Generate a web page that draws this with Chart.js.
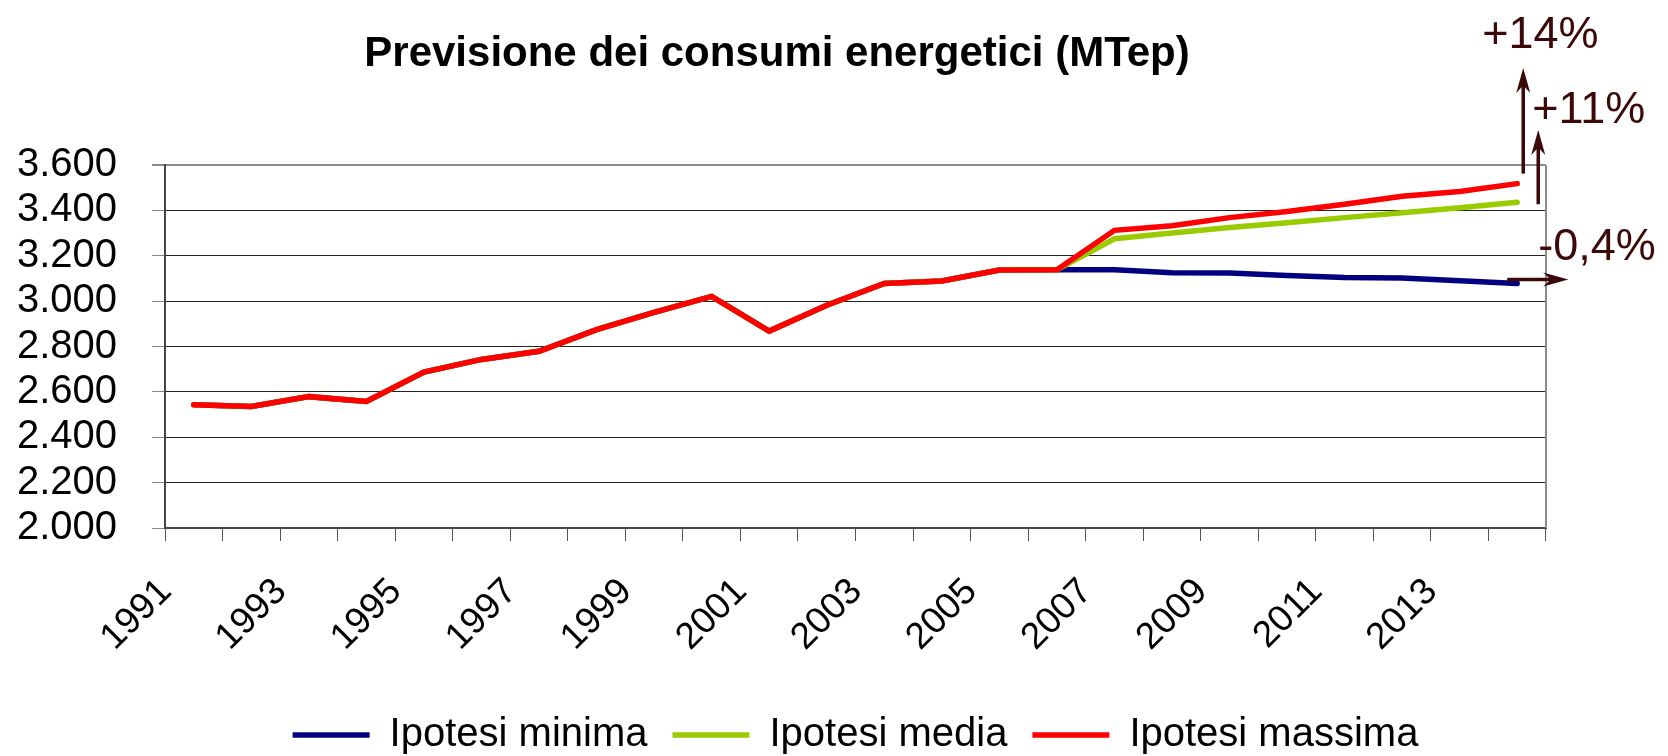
<!DOCTYPE html>
<html lang="it">
<head>
<meta charset="utf-8">
<title>Previsione dei consumi energetici</title>
<script src="https://cdn.jsdelivr.net/npm/chart.js@4/dist/chart.umd.min.js"></script>
<style>
  html, body { margin: 0; padding: 0; background: #fff; }
  #wrap { position: relative; width: 1668px; height: 756px; }
  #title {
    position: absolute; left: 0; top: 31px; width: 1554px;
    text-align: center; font: bold 42px 'Liberation Sans', Arial, sans-serif;
    line-height: 42px; color: #000;
  }
</style>
</head>
<body>
<div id="wrap">
  <canvas id="chartConsumi" width="1668" height="756"></canvas>
  <div id="title">Previsione dei consumi energetici (MTep)</div>
</div>
<script>
// Dati (MTep)
const years = ['1991', '1992', '1993', '1994', '1995', '1996', '1997', '1998', '1999', '2000',
  '2001', '2002', '2003', '2004', '2005', '2006', '2007', '2008', '2009', '2010',
  '2011', '2012', '2013', '2014'];

const ipotesiMinima = [2543, 2536, 2579, 2558, 2687, 2743, 2779, 2874, 2950, 3021,
  2868, 2982, 3078, 3089, 3137, 3138, 3138, 3125, 3124, 3113,
  3104, 3102, 3090, 3078];

const ipotesiMedia = [2543, 2536, 2579, 2558, 2687, 2743, 2779, 2874, 2950, 3021,
  2868, 2982, 3078, 3089, 3137, 3138, 3275, 3300, 3325, 3345,
  3368, 3390, 3412, 3436];

const ipotesiMassima = [2543, 2536, 2579, 2558, 2687, 2743, 2779, 2874, 2950, 3021,
  2868, 2982, 3078, 3089, 3137, 3138, 3312, 3332, 3368, 3395,
  3427, 3462, 3483, 3518];

const yTicks = [2000, 2200, 2400, 2600, 2800, 3000, 3200, 3400, 3600];
const variazioni = ['+14%', '+11%', '-0,4%'];

const FONT = "'Liberation Sans', Arial, sans-serif";
const ARROW = '#3c0808';

function formatIt(v) {
  return String(v).replace(/\B(?=(\d{3})+(?!\d))/g, '.');
}

// arrow with a filled head
function drawArrow(ctx, x1, y1, x2, y2) {
  const ang = Math.atan2(y2 - y1, x2 - x1);
  const len = 25, half = 7;
  ctx.save();
  ctx.strokeStyle = ARROW;
  ctx.fillStyle = ARROW;
  ctx.lineWidth = 3.5;
  ctx.beginPath();
  ctx.moveTo(x1, y1);
  ctx.lineTo(x2 - Math.cos(ang) * 8, y2 - Math.sin(ang) * 8);
  ctx.stroke();
  ctx.translate(x2, y2);
  ctx.rotate(ang);
  ctx.beginPath();
  ctx.moveTo(0, 0);
  ctx.lineTo(-len, -half);
  ctx.lineTo(-len * 0.7, 0);
  ctx.lineTo(-len, half);
  ctx.closePath();
  ctx.fill();
  ctx.restore();
}

// gray frame on the right of the plot
const frame = {
  id: 'frame',
  beforeDatasetsDraw(chart) {
    const { ctx, chartArea: a } = chart;
    ctx.save();
    ctx.strokeStyle = '#8c8c8c';
    ctx.lineWidth = 2;
    ctx.beginPath();
    ctx.moveTo(a.right, a.top);
    ctx.lineTo(a.right, a.bottom);
    ctx.stroke();
    ctx.restore();
  }
};

// percentage arrows next to the last year
const annotations = {
  id: 'annotations',
  afterDraw(chart) {
    const { ctx, chartArea: a, scales: { x, y } } = chart;
    const last = years.length - 1;
    const px = x.getPixelForValue(last);
    const yMax = y.getPixelForValue(ipotesiMassima[last]);
    const yMed = y.getPixelForValue(ipotesiMedia[last]);
    const yMin = y.getPixelForValue(ipotesiMinima[last]);

    drawArrow(ctx, px + 6, yMax - 10, px + 6, a.top - 97);
    drawArrow(ctx, px + 21, yMed + 2, px + 21, a.top - 35);
    drawArrow(ctx, px - 10, yMin - 4, px + 51, yMin - 4);

    ctx.save();
    ctx.fillStyle = ARROW;
    ctx.font = '45px ' + FONT;
    ctx.textBaseline = 'alphabetic';
    ctx.textAlign = 'left';
    ctx.fillText(variazioni[0], px - 35, a.top - 117);
    ctx.fillText(variazioni[1], px + 15, a.top - 42);
    ctx.fillText(variazioni[2], px + 21, yMin - 23);
    ctx.restore();
  }
};

function lineDataset(label, data, color, order) {
  return {
    label: label,
    data: data,
    borderColor: color,
    backgroundColor: color,
    borderWidth: 5.5,
    borderCapStyle: 'round',
    pointRadius: 0,
    pointHoverRadius: 0,
    tension: 0,
    fill: false,
    order: order
  };
}

new Chart(document.getElementById('chartConsumi'), {
  type: 'line',
  data: {
    labels: years,
    datasets: [
      lineDataset('Ipotesi minima', ipotesiMinima, '#000080', 2),
      lineDataset('Ipotesi media', ipotesiMedia, '#99cc00', 1),
      lineDataset('Ipotesi massima', ipotesiMassima, '#ff0000', 0)
    ]
  },
  options: {
    responsive: false,
    animation: false,
    devicePixelRatio: 1,
    layout: { padding: { left: 0, right: 122, top: 165, bottom: -9 } },
    plugins: {
      title: { display: false },
      tooltip: { enabled: false },
      legend: {
        position: 'bottom',
        fullSize: false,
        labels: {
          usePointStyle: true,
          pointStyle: 'line',
          pointStyleWidth: 77,
          padding: 25,
          color: '#000',
          font: { family: FONT, size: 40 },
          sort: (a, b) => a.datasetIndex - b.datasetIndex
        }
      }
    },
    scales: {
      x: {
        offset: true,
        afterFit: (scale) => { scale.height = 162; },
        grid: {
          offset: true,
          drawOnChartArea: false,
          tickLength: 13,
          color: '#555'
        },
        border: { color: '#444', width: 2 },
        ticks: {
          autoSkip: false,
          minRotation: 45,
          maxRotation: 45,
          padding: 29,
          labelOffset: -28,
          color: '#000',
          font: { family: FONT, size: 37 },
          callback: (val, i) => (i % 2 === 0 ? years[i] : '')
        }
      },
      y: {
        min: yTicks[0],
        max: yTicks[yTicks.length - 1],
        afterFit: (scale) => { scale.width = 165; },
        afterBuildTicks: (scale) => { scale.ticks = yTicks.map(v => ({ value: v })); },
        grid: {
          tickLength: 13,
          color: (c) => (c.tick && c.tick.value === 3600 ? '#8c8c8c' : '#222'),
          lineWidth: (c) => (c.tick && c.tick.value === 3600 ? 2 : 1),
          tickColor: '#888'
        },
        border: { color: '#444', width: 2 },
        ticks: {
          autoSkip: false,
          padding: 35,
          color: '#000',
          font: { family: FONT, size: 40 },
          callback: (v) => formatIt(v)
        }
      }
    }
  },
  plugins: [frame, annotations]
});
</script>
</body>
</html>
